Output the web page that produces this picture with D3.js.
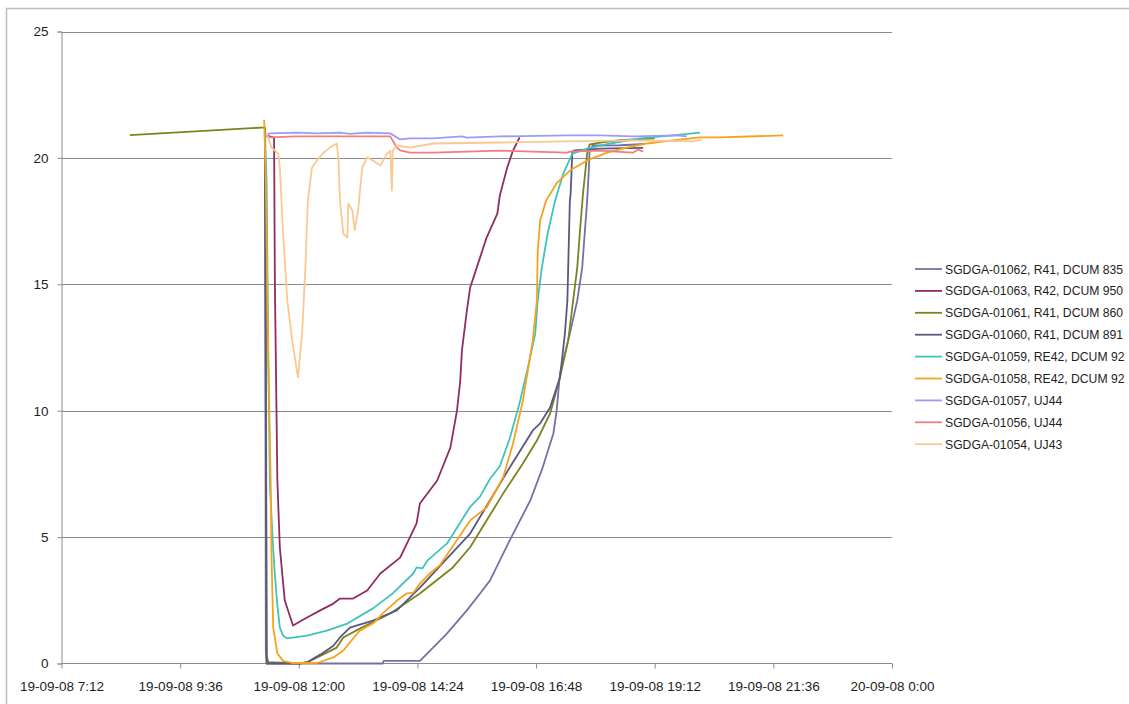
<!DOCTYPE html>
<html><head><meta charset="utf-8">
<script src="https://cdn.jsdelivr.net/npm/d3@7"></script>
<style>
body{margin:0;background:#fff;overflow:hidden;}
svg{display:block;}
text{font-family:"Liberation Sans",Arial,sans-serif;fill:#1e1e1e;}
</style>
</head><body><svg id="c" width="1129" height="704"></svg>
<script>
// ---- data (times on 19-09-08) ----
const seriesNames = [
  "SGDGA-01062, R41, DCUM 835",
  "SGDGA-01063, R42, DCUM 950",
  "SGDGA-01061, R41, DCUM 860",
  "SGDGA-01060, R41, DCUM 891",
  "SGDGA-01059, RE42, DCUM 92",
  "SGDGA-01058, RE42, DCUM 92",
  "SGDGA-01057, UJ44",
  "SGDGA-01056, UJ44",
  "SGDGA-01054, UJ43"
];
const seriesColors = ["#7472a5","#8f2d62","#7f8120","#5a5784","#40c3bf","#f5a31c","#9c9cf3","#f27d7d","#fbc892"];

const s01062 = [["11:19",20.9],["11:20",0.5],["11:21",0],["13:42",0],["13:43",0.1],["14:27",0.1],["14:43",0.63],["15:00",1.19],["15:24",2.1],["15:40",2.77],["15:52",3.28],["16:16",4.87],["16:41",6.45],["16:56",7.75],["17:09",9.1],["17:13",10.0],["17:17",11.47],["17:29",13.05],["17:38",14.36],["17:44",15.66],["17:47",17.0],["17:50",18.3],["17:52",19.5],["17:53",20.3],["17:57",20.49],["18:30",20.5],["19:00",20.55]];
const s01063 = [["11:19",20.9],["11:30",20.8],["11:31",15],["11:34",7.24],["11:37",4.59],["11:43",2.49],["11:53",1.5],["12:10",1.82],["12:26",2.1],["12:42",2.37],["12:50",2.57],["13:06",2.57],["13:23",2.89],["13:39",3.56],["14:03",4.19],["14:23",5.54],["14:27",6.33],["14:48",7.24],["15:04",8.54],["15:12",10.0],["15:16",11.19],["15:18",12.38],["15:24",13.96],["15:28",14.87],["15:36",15.66],["15:48",16.85],["16:01",17.8],["16:04",18.51],["16:13",19.62],["16:20",20.29],["16:28",20.81]];
const s01061 = [["08:35",20.9],["11:15",21.2],["11:19",21.2],["11:20",14.3],["11:21",0.3],["11:23",0.05],["12:01",0.0],["12:10",0.04],["12:26",0.3],["12:34",0.43],["12:46",0.63],["12:54",1.03],["13:14",1.38],["13:51",1.98],["14:27",2.77],["15:07",3.8],["15:28",4.6],["16:08",6.72],["16:32",7.91],["16:49",8.82],["17:05",9.89],["17:17",11.31],["17:27",12.78],["17:33",14.36],["17:38",15.66],["17:41",17.0],["17:45",18.6],["17:50",20.17],["17:53",20.53],["18:06",20.6],["18:30",20.7],["19:12",20.77]];
const s01060 = [["11:19",20.9],["11:20",10],["11:21",0],["12:01",0],["12:10",0.05],["12:26",0.35],["12:42",0.7],["12:50",1.03],["13:02",1.42],["13:30",1.7],["13:59",2.1],["14:27",3.0],["15:28",5.14],["15:52",6.45],["16:16",7.75],["16:44",9.22],["16:53",9.5],["17:05",10.13],["17:17",11.31],["17:23",13.05],["17:26",14.36],["17:27",15.66],["17:28",17.0],["17:29",18.3],["17:30",18.6],["17:32",20.25],["17:35",20.3],["18:06",20.37],["18:58",20.4]];
const s01059 = [["11:19",20.9],["11:21",19],["11:23",12],["11:25",7],["11:29",4.5],["11:31",3.5],["11:34",2.3],["11:37",1.42],["11:41",1.1],["11:46",0.99],["12:10",1.1],["12:34",1.3],["12:59",1.58],["13:30",2.18],["13:54",2.77],["14:19",3.56],["14:23",3.8],["14:30",3.76],["14:36",4.07],["15:00",4.75],["15:28",6.2],["15:40",6.6],["15:52",7.3],["16:04",7.8],["16:16",8.9],["16:28",10.3],["16:38",11.7],["16:47",13.05],["16:50",14.36],["16:55",15.66],["17:02",17.0],["17:11",18.3],["17:21",19.38],["17:32",20.17],["17:50",20.37],["18:18",20.57],["18:54",20.77],["19:34",20.89],["20:07",21.0]];
const s01058 = [["11:18",21.5],["11:20",19],["11:23",12],["11:26",7],["11:27",4.07],["11:29",1.42],["11:34",0.4],["11:41",0.1],["11:52",0.02],["12:22",0.02],["12:42",0.24],["12:54",0.51],["13:02",0.83],["13:14",1.3],["13:30",1.58],["13:42",1.98],["13:59",2.49],["14:11",2.77],["14:19",2.8],["14:27",3.16],["14:39",3.56],["14:51",3.88],["15:28",5.66],["15:48",6.17],["16:08",7.36],["16:20",8.7],["16:32",10.4],["16:44",12.78],["16:49",14.36],["16:50",16.34],["16:53",17.52],["17:00",18.3],["17:13",19.0],["17:29",19.5],["17:50",19.9],["18:14",20.21],["18:38",20.41],["19:03",20.57],["19:34",20.69],["20:07",20.81],["20:31",20.81],["21:48",20.89]];
const s01057 = [["11:19",20.9],["11:25",20.97],["11:58",21.0],["12:22",20.97],["12:50",21.0],["13:02",20.95],["13:23",21.0],["13:51",20.97],["14:03",20.73],["14:15",20.77],["14:43",20.77],["15:18",20.85],["15:24",20.8],["16:04",20.85],["17:26",20.89],["18:06",20.89],["18:46",20.85],["19:39",20.89],["19:51",20.85]];
const s01056 = [["11:19",20.85],["11:25",20.81],["11:58",20.85],["12:38",20.85],["13:51",20.85],["13:59",20.41],["14:03",20.3],["14:15",20.21],["14:43",20.21],["16:04",20.29],["17:26",20.21],["17:29",20.25],["18:06",20.29],["18:46",20.21],["18:52",20.33],["18:58",20.25]];
const s01054 = [["11:21",20.97],["11:27",20.41],["11:35",20.17],["11:37",19.62],["11:41",17.0],["11:46",14.36],["11:52",12.78],["11:59",11.31],["12:04",13.05],["12:08",15.66],["12:11",18.3],["12:16",19.62],["12:22",19.9],["12:29",20.17],["12:38",20.41],["12:46",20.57],["12:48",20.02],["12:50",18.3],["12:54",17.0],["12:59",16.85],["13:00",18.2],["13:05",17.92],["13:08",17.13],["13:12",17.92],["13:17",19.62],["13:23",20.02],["13:30",19.9],["13:39",19.7],["13:47",20.17],["13:51",20.29],["13:53",18.71],["13:54",20.29],["13:59",20.49],["14:15",20.41],["14:43",20.57],["16:04",20.61],["17:26",20.65],["18:46",20.69],["19:59",20.65],["20:09",20.73]];

const seriesData = [s01062,s01063,s01061,s01060,s01059,s01058,s01057,s01056,s01054];

const xTickLabels = ["19-09-08 7:12","19-09-08 9:36","19-09-08 12:00","19-09-08 14:24","19-09-08 16:48","19-09-08 19:12","19-09-08 21:36","20-09-08 0:00"];
const yTicks = [0,5,10,15,20,25];

// ---- drawing ----
const svg = d3.select("#c");
const parseT = s => { const [h,m] = s.split(":").map(Number); return new Date(2008,8,19,h,m); };
const t0 = new Date(2008,8,19,7,12);
const xTickValues = xTickLabels.map((_,i) => new Date(t0.getTime() + i*144*60000));

const x = d3.scaleTime().domain([xTickValues[0], xTickValues[xTickValues.length-1]]).range([61.5, 892]);
const y = d3.scaleLinear().domain([0,25]).range([663.5, 31.5]);

// chart border
svg.append("rect").attr("x",6.5).attr("y",8.5).attr("width",1140).attr("height",710)
  .attr("fill","none").attr("stroke","#bdbdbd").attr("stroke-width",1.5);

// gridlines
svg.append("g").selectAll("line").data(yTicks.filter(d=>d>0)).join("line")
  .attr("x1",61.5).attr("x2",892)
  .attr("y1",d=>Math.round(y(d))+0.5).attr("y2",d=>Math.round(y(d))+0.5)
  .attr("stroke","#8c8c8c").attr("stroke-width",1);

// y axis
const yAxis = svg.append("g").attr("transform","translate(61.5,0)")
  .call(d3.axisLeft(y).tickValues(yTicks).tickSize(4).tickPadding(9).tickFormat(d3.format("d")));
yAxis.select(".domain").attr("stroke","#8c8c8c");
yAxis.selectAll(".tick line").attr("stroke","#8c8c8c");
yAxis.selectAll("text").attr("font-size","13.5px").attr("font-family","Liberation Sans, Arial, sans-serif").attr("fill","#1e1e1e");

// x axis
const xAxis = svg.append("g").attr("transform","translate(0,663.5)")
  .call(d3.axisBottom(x).tickValues(xTickValues).tickSize(5).tickPadding(13).tickFormat((d,i)=>xTickLabels[i]));
xAxis.select(".domain").attr("stroke","#8c8c8c").attr("d","M61.5,0H892");
xAxis.selectAll(".tick line").attr("stroke","#8c8c8c");
xAxis.selectAll("text").attr("font-size","13.5px").attr("font-family","Liberation Sans, Arial, sans-serif").attr("fill","#1e1e1e");

// lines
const line = d3.line().x(d=>x(parseT(d[0]))).y(d=>y(d[1]));
svg.append("g").selectAll("path").data(seriesData).join("path")
  .attr("d",line).attr("fill","none")
  .attr("stroke",(d,i)=>seriesColors[i]).attr("stroke-width",1.8)
  .attr("stroke-linejoin","round");

// legend
const lg = svg.append("g");
seriesNames.forEach((n,i)=>{
  const cy = 269 + i*21.9;
  lg.append("line").attr("x1",915).attr("x2",942).attr("y1",cy).attr("y2",cy)
    .attr("stroke",seriesColors[i]).attr("stroke-width",1.8);
  lg.append("text").attr("x",945).attr("y",cy+4.5).attr("font-size","12.2px").text(n);
});
</script>
</body></html>
